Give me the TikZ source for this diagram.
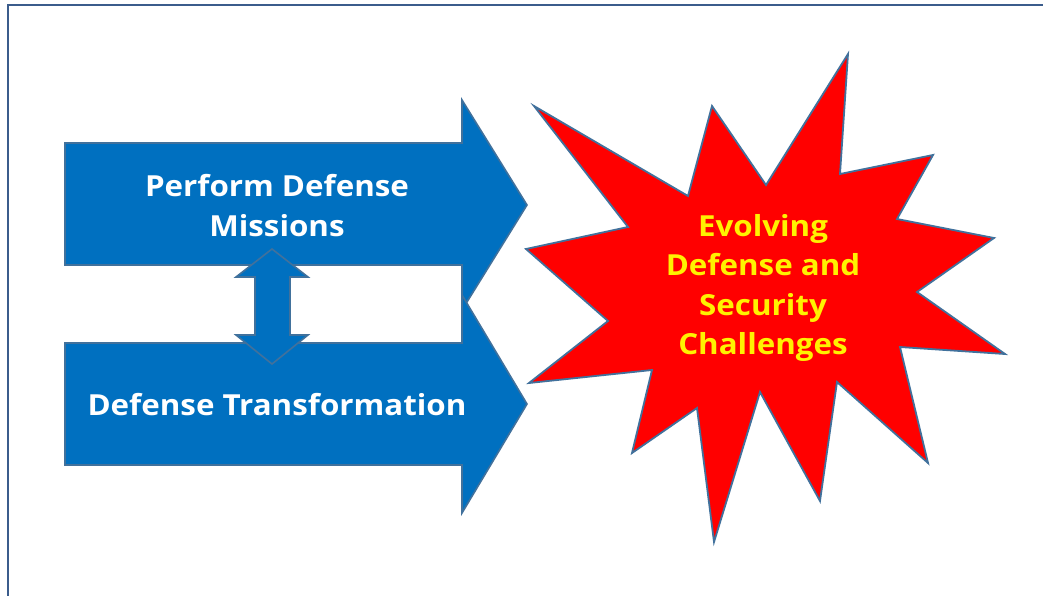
\documentclass[tikz,border=0pt]{standalone}
\usepackage{fontspec}
\setmainfont{Open Sans}[BoldFeatures={FakeStretch=1.08}]
\begin{document}
\begin{tikzpicture}[x=1pt,y=-1pt,
  blockarrow/.style={fill=arrowblue, draw=edgeblue, line width=1.6pt, line join=miter},
  burst/.style={fill=red, draw=edgeblue, line width=1.8pt, line join=miter},
  armlabel/.style={text=white, font=\fontsize{29}{40}\selectfont\bfseries, align=center, inner sep=0pt},
  burstlabel/.style={text=yellow, font=\fontsize{29}{39.5}\selectfont\bfseries, align=center, inner sep=0pt},
  frameline/.style={draw=frameblue, line width=2.4pt}]
\definecolor{arrowblue}{HTML}{0070C0}
\definecolor{edgeblue}{HTML}{41719C}
\definecolor{frameblue}{HTML}{3B5C8C}
\useasboundingbox (0,0) rectangle (1043,596);
\fill[white] (0,0) rectangle (1043,596);
% frame
\coordinate (ftr) at (1045,5);
\coordinate (ftl) at (8,5);
\coordinate (fbl) at (8,598);
\draw[frameline] (ftr) -- (ftl) -- (fbl);
% upper arrow
\draw[blockarrow] (65,143) -- (462,143) -- (462,100) -- (527,205) -- (462,310) -- (462,265) -- (65,265) -- cycle;
% lower arrow
\draw[blockarrow] (65,343) -- (462,343) -- (462,295) -- (527,404) -- (462,513) -- (462,465) -- (65,465) -- cycle;
% double arrow
\draw[blockarrow] (272,249) -- (308,277) -- (290,277) -- (290,335) -- (308,335) -- (272,364) -- (236,335) -- (255,335) -- (255,277) -- (236,277) -- cycle;
% burst
\draw[burst] (534,106) -- (688,196) -- (712,106) -- (766,185) -- (848,54) -- (840,174)
  -- (933,155) -- (897,219) -- (994,238) -- (917,292) -- (1005,354) -- (900,347)
  -- (928,463) -- (837,382) -- (820,501) -- (760,392) -- (714,542) -- (697,408)
  -- (632,453) -- (652,370) -- (529,383) -- (608,321) -- (526,249) -- (628,227) -- cycle;
% labels
\node[armlabel] (perform) at (277,206) {Perform Defense\\Missions};
\node[armlabel] (transform) at (277,405) {Defense Transformation};
\node[burstlabel] (evolving) at (763,288) {Evolving\\Defense and\\Security\\Challenges};
\end{tikzpicture}
\end{document}
